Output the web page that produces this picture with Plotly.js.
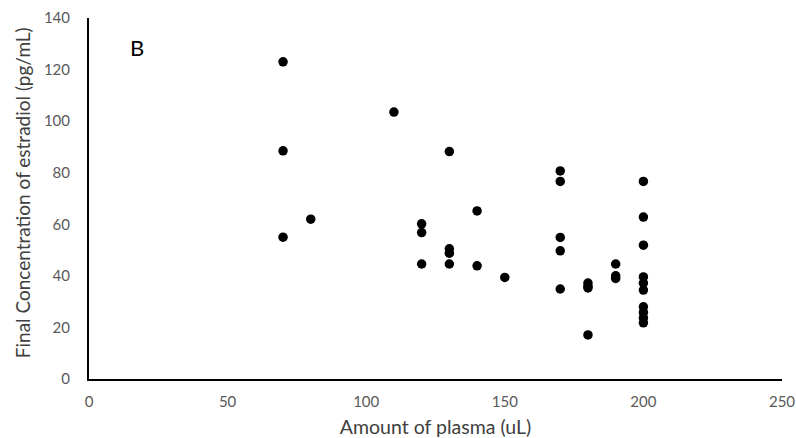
<!DOCTYPE html>
<html>
<head>
<meta charset="utf-8">
<script src="https://cdn.plot.ly/plotly-3.0.1.min.js"></script>
<style>html,body{margin:0;padding:0;background:#fff;}#chart{width:796px;height:438px;}</style>
</head>
<body>
<div id="chart"></div>
<script>
// Amount of plasma (uL)
var plasmaVolume = [70, 70, 70, 80, 110, 120, 120, 120, 130, 130, 130, 130, 140, 140, 150,
  170, 170, 170, 170, 170, 180, 180, 180, 180, 190, 190, 190,
  200, 200, 200, 200, 200, 200, 200, 200, 200, 200];
// Final concentration of estradiol (pg/mL)
var estradiol = [123.0, 88.5, 55.0, 62.0, 103.5, 60.2, 56.8, 44.6, 88.2, 50.5, 48.8, 44.6, 65.2, 43.9, 39.4,
  80.7, 76.6, 54.9, 49.7, 34.9, 37.2, 36.0, 35.3, 17.1, 44.6, 40.0, 39.0,
  76.6, 62.8, 51.9, 39.6, 37.2, 34.5, 28.0, 25.8, 23.7, 21.8];
var xTicks = [0, 50, 100, 150, 200, 250];
var yTicks = [0, 20, 40, 60, 80, 100, 120, 140];
var panelLabel = 'B';
var xTitle = 'Amount of plasma (uL)';
var yTitle = 'Final Concentration of estradiol (pg/mL)';

var FONT = 'Lato, "Open Sans", "Liberation Sans", sans-serif';

var trace = {
  type: 'scatter',
  mode: 'markers',
  x: plasmaVolume,
  y: estradiol,
  marker: {color: '#000000', size: 9.5},
  hoverinfo: 'x+y'
};

var layout = {
  width: 796,
  height: 438,
  margin: {l: 88.5, r: 13.5, t: 17.7, b: 58.5, pad: 0},
  paper_bgcolor: '#ffffff',
  plot_bgcolor: '#ffffff',
  showlegend: false,
  font: {family: FONT, color: '#595959', size: 15},
  xaxis: {
    range: [0, 250],
    tickvals: xTicks,
    ticktext: xTicks.map(String),
    showgrid: false,
    zeroline: false,
    showline: true,
    linecolor: '#000000',
    linewidth: 2,
    ticks: '',
    ticklabelstandoff: 8,
    automargin: false,
    tickfont: {family: FONT, size: 15, color: '#595959'},
    title: {text: xTitle, font: {family: FONT, size: 19.5, color: '#404040'}}
  },
  yaxis: {
    range: [0, 140],
    tickvals: yTicks,
    ticktext: yTicks.map(String),
    showgrid: false,
    zeroline: false,
    showline: true,
    linecolor: '#000000',
    linewidth: 2,
    ticks: '',
    ticklabelstandoff: 14,
    automargin: false,
    tickfont: {family: FONT, size: 15, color: '#595959'}
  },
  annotations: [{
    text: panelLabel,
    xref: 'paper', yref: 'paper',
    x: 0.0699, y: 0.919,
    xanchor: 'center', yanchor: 'middle',
    showarrow: false,
    font: {family: FONT, size: 22, color: '#000000'}
  }, {
    text: yTitle,
    xref: 'paper', yref: 'paper',
    x: -0.0965, y: 0.515,
    xanchor: 'center', yanchor: 'middle',
    textangle: -90,
    showarrow: false,
    font: {family: FONT, size: 19, color: '#404040'}
  }]
};

Plotly.newPlot('chart', [trace], layout, {displayModeBar: false, staticPlot: true});
</script>
</body>
</html>
